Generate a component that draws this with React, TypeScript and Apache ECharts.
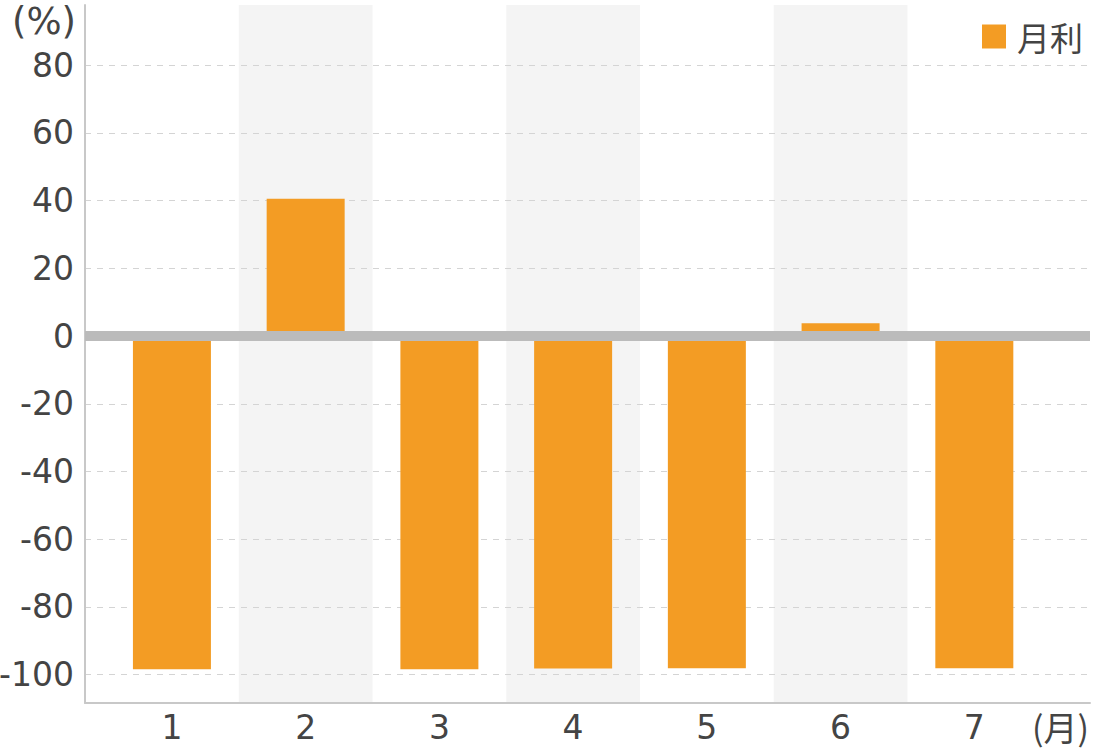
import React, { useEffect, useRef } from "react";
import * as echarts from "echarts";

const months = [1, 2, 3, 4, 5, 6, 7];
const monthlyReturn = [-98.4, 40.6, -98.4, -98.2, -98.1, 3.8, -98.1];
const yTicks = [-100, -80, -60, -40, -20, 0, 20, 40, 60, 80];
const shadedMonths = [2, 4, 6];
const seriesName = "月利";

export default function App() {
  const ref = useRef<HTMLDivElement>(null);
  useEffect(() => {
    if (!ref.current) return;
    const chart = echarts.init(ref.current, undefined, { renderer: "svg" });
    const textColor = "#444444";
    const font = "DejaVu Sans";
    chart.setOption({
      animation: false,
      title: [
        { text: "(%)", left: 7, top: -2, textStyle: { fontFamily: font, fontSize: 37, fontWeight: "normal", color: textColor } },
        { text: "(月)", right: 6, top: 704, textStyle: { fontFamily: "Noto Sans CJK JP", fontSize: 34, fontWeight: "normal", color: textColor } },
      ],
      legend: {
        right: 12,
        top: 15,
        itemWidth: 24,
        itemHeight: 24,
        icon: "rect",
        textStyle: { fontFamily: "Noto Sans CJK JP", fontSize: 33, color: textColor, padding: [0, 0, 0, 6] },
        data: [seriesName],
      },
      grid: { left: 85, right: 10, top: 5, bottom: 47, containLabel: false, outerBoundsMode: "none" },
      xAxis: {
        type: "value",
        min: 0.35,
        max: 7.865,
        axisLine: { show: true, onZero: false, lineStyle: { color: "#c8c8c8", width: 2 } },
        axisTick: { show: false, customValues: months },
        splitLine: { show: false },
        axisLabel: {
          customValues: months,
          fontFamily: font,
          fontSize: 33,
          color: textColor,
          margin: 8,
        },
      },
      yAxis: {
        type: "value",
        min: -108.4,
        max: 97.8,
        axisLine: { show: true, lineStyle: { color: "#c8c8c8", width: 2 } },
        axisTick: { show: false, customValues: yTicks },
        axisLabel: {
          customValues: yTicks,
          fontFamily: font,
          fontSize: 33,
          color: textColor,
          margin: 11,
        },
        splitLine: { show: true, lineStyle: { color: "#d4d4d4", type: [6, 6], width: 1 } },
      },
      series: [
        {
          name: seriesName,
          type: "bar",
          barWidth: 78,
          itemStyle: { color: "#F39C24" },
          data: months.map((m, i) => [m, monthlyReturn[i]]),
          markArea: {
            silent: true,
            itemStyle: { color: "#f4f4f4" },
            data: shadedMonths.map((m) => [{ xAxis: m - 0.5 }, { xAxis: m + 0.5 }]),
            z: -1,
          },
          markLine: {
            silent: true,
            symbol: "none",
            label: { show: false },
            lineStyle: { color: "#bbbbbb", width: 10, type: "solid" },
            data: [{ yAxis: 0 }],
          },
        },
      ],
    });
    return () => chart.dispose();
  }, []);
  return <div ref={ref} style={{ width: 1100, height: 750, position: "absolute", left: 0, top: 0 }} />;
}
